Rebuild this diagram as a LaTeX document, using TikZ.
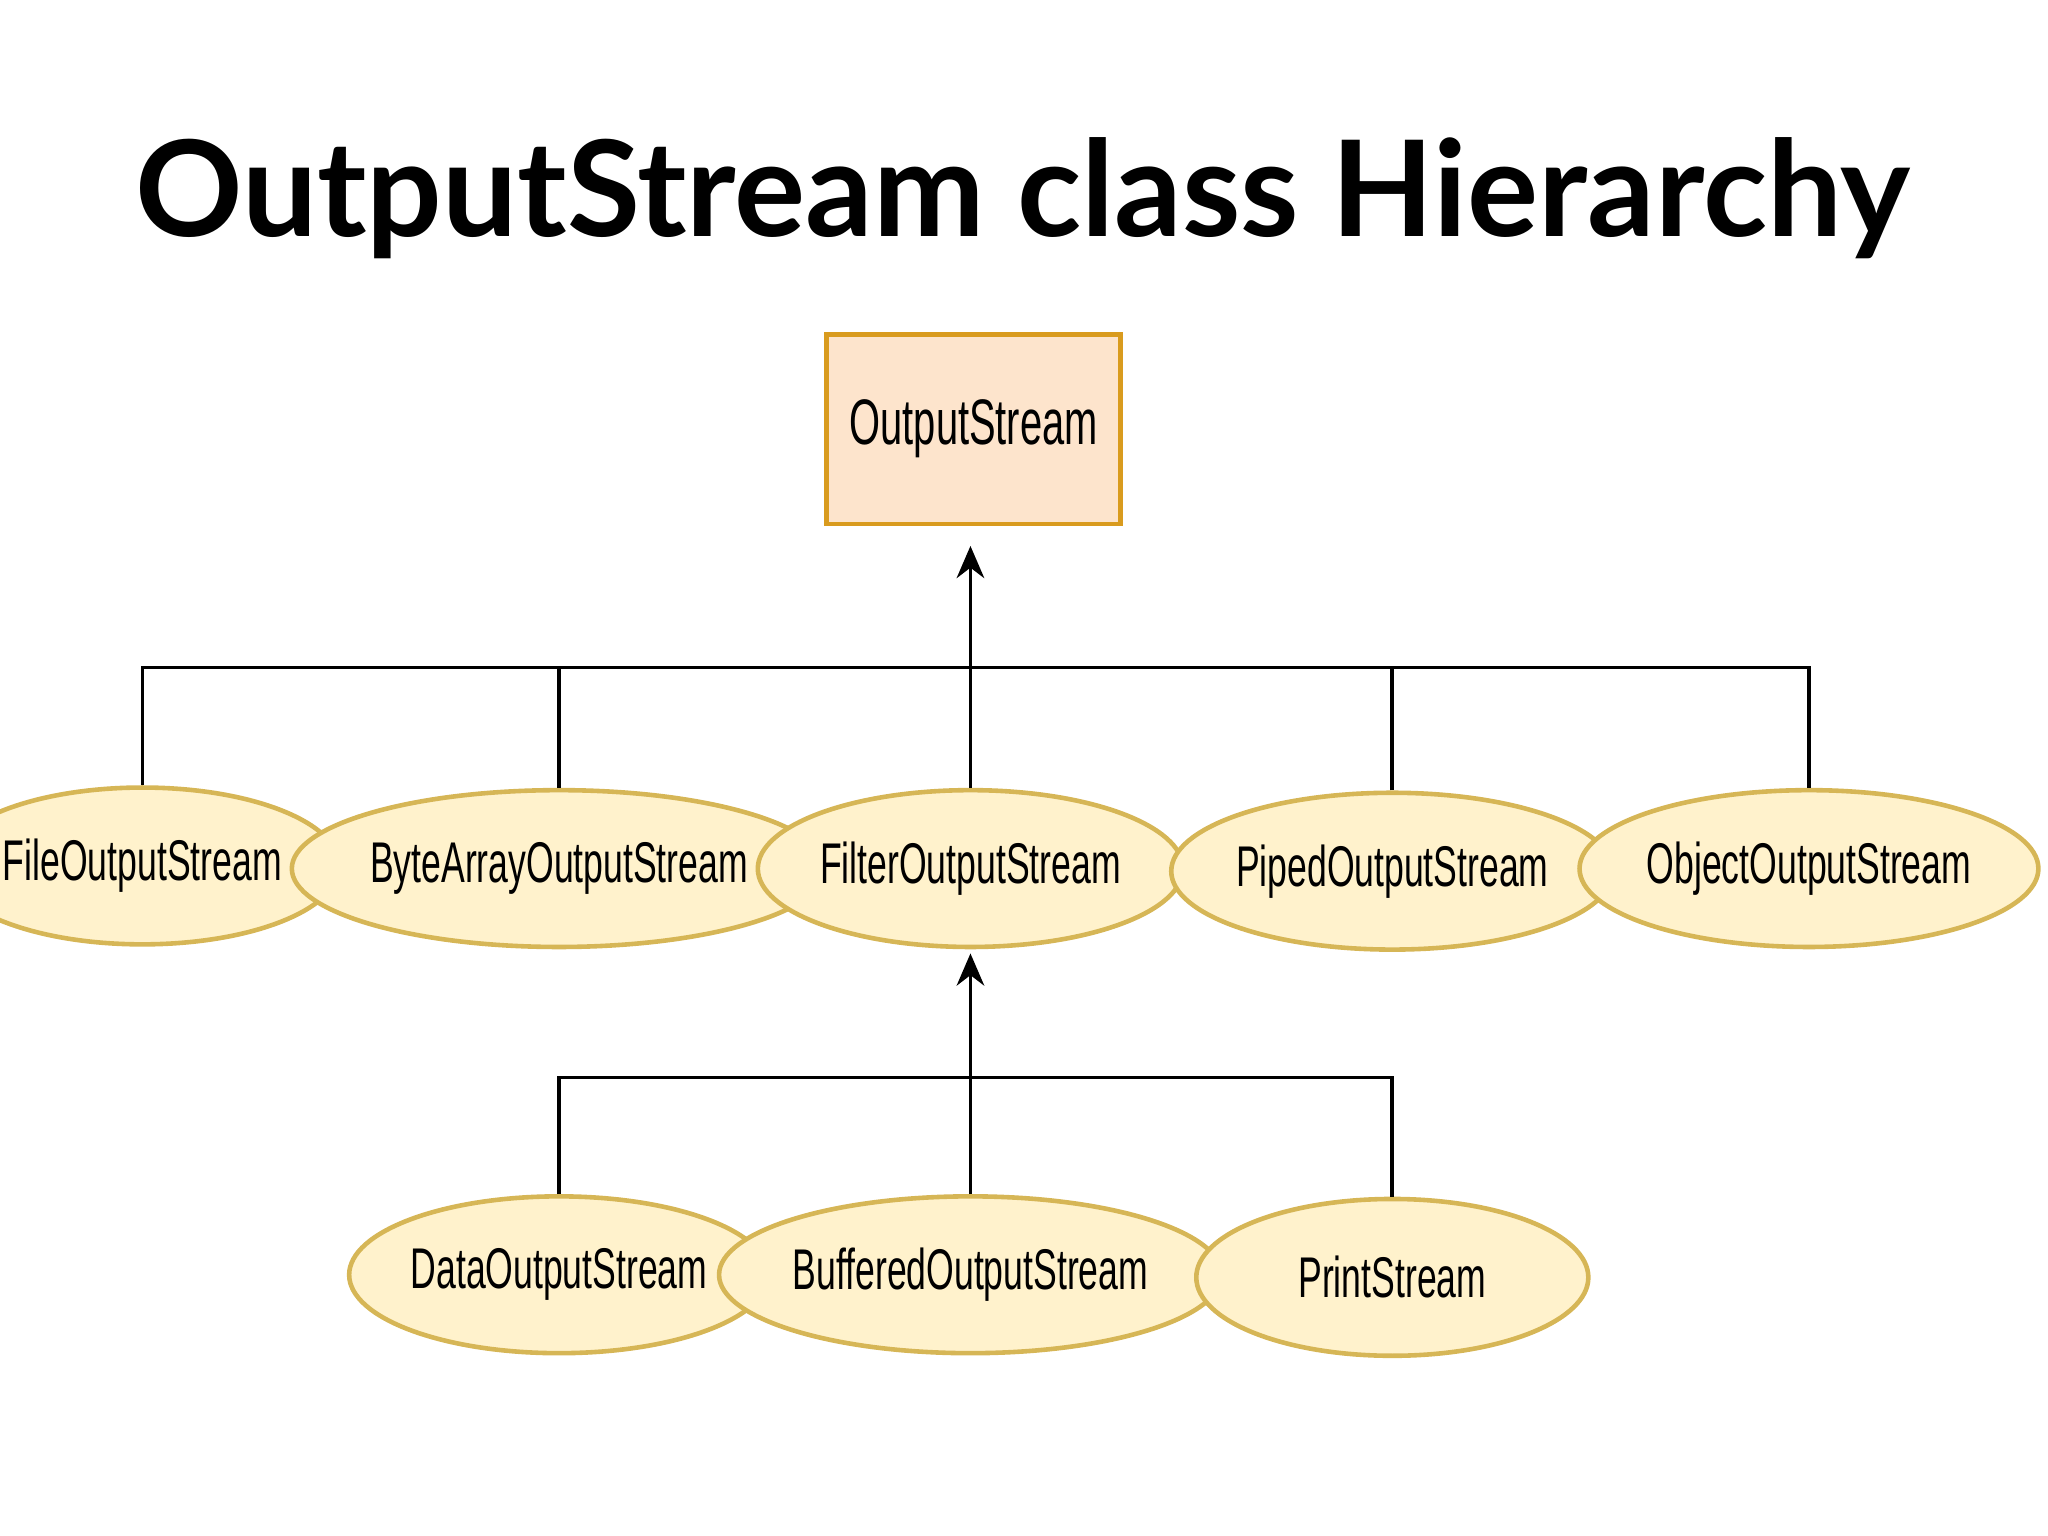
\documentclass[tikz,border=0pt]{standalone}
\usepackage{fontspec}
\setmainfont{Lato}
\newfontfamily\cond[FakeStretch=0.62]{Liberation Sans}
\usetikzlibrary{shapes.geometric,arrows.meta}
\definecolor{boxfill}{HTML}{FDE4CC}
\definecolor{boxline}{HTML}{D99B1E}
\definecolor{elfill}{HTML}{FFF2CC}
\definecolor{elline}{HTML}{D6B656}
\tikzset{
 cls/.style={ellipse,draw=elline,fill=elfill,line width=1pt,minimum width=3cm,minimum height=1.2cm,inner sep=0pt,font=\cond\fontsize{12.5}{14}\selectfont},
 conn/.style={line width=0.8pt},
 up/.style={line width=0.8pt,-{Stealth[length=7pt,width=6pt]}}
}
\begin{document}
\begin{tikzpicture}[x=0.01cm,y=-0.01cm]
\useasboundingbox (0,0) rectangle (1568,1176);
\node[font=\bfseries\fontsize{29}{34}\selectfont] (title) at (783,152) {OutputStream class Hierarchy};
\node[draw=boxline,fill=boxfill,line width=1pt,minimum width=2.25cm,minimum height=1.45cm,font=\cond\fontsize{14}{16}\selectfont] (os) at (745.5,328.5) {OutputStream};
\node[cls] (f) at (109,663) {FileOutputStream};
\node[cls] (b) at (428,665) {ByteArrayOutputStream};
\node[cls] (fi) at (743,665) {FilterOutputStream};
\node[cls] (p) at (1066,667) {PipedOutputStream};
\node[cls] (o) at (1385,665) {ObjectOutputStream};
\node[cls] (d) at (428,976) {DataOutputStream};
\node[cls] (bu) at (743,976) {BufferedOutputStream};
\node[cls] (pr) at (1066,978) {PrintStream};
\coordinate (j1) at (743,511);
\coordinate (j2) at (743,825);
\draw[up] (j1) -- (743,418);
\draw[conn] (f.north) -- (f.north |- j1) -- (o.north |- j1) -- (o.north);
\draw[conn] (b.north) -- (b.north |- j1);
\draw[conn] (fi.north) -- (j1);
\draw[conn] (p.north) -- (p.north |- j1);
\draw[up] (j2) -- (743,730);
\draw[conn] (d.north) -- (d.north |- j2) -- (pr.north |- j2) -- (pr.north);
\draw[conn] (bu.north) -- (j2);
\end{tikzpicture}
\end{document}
